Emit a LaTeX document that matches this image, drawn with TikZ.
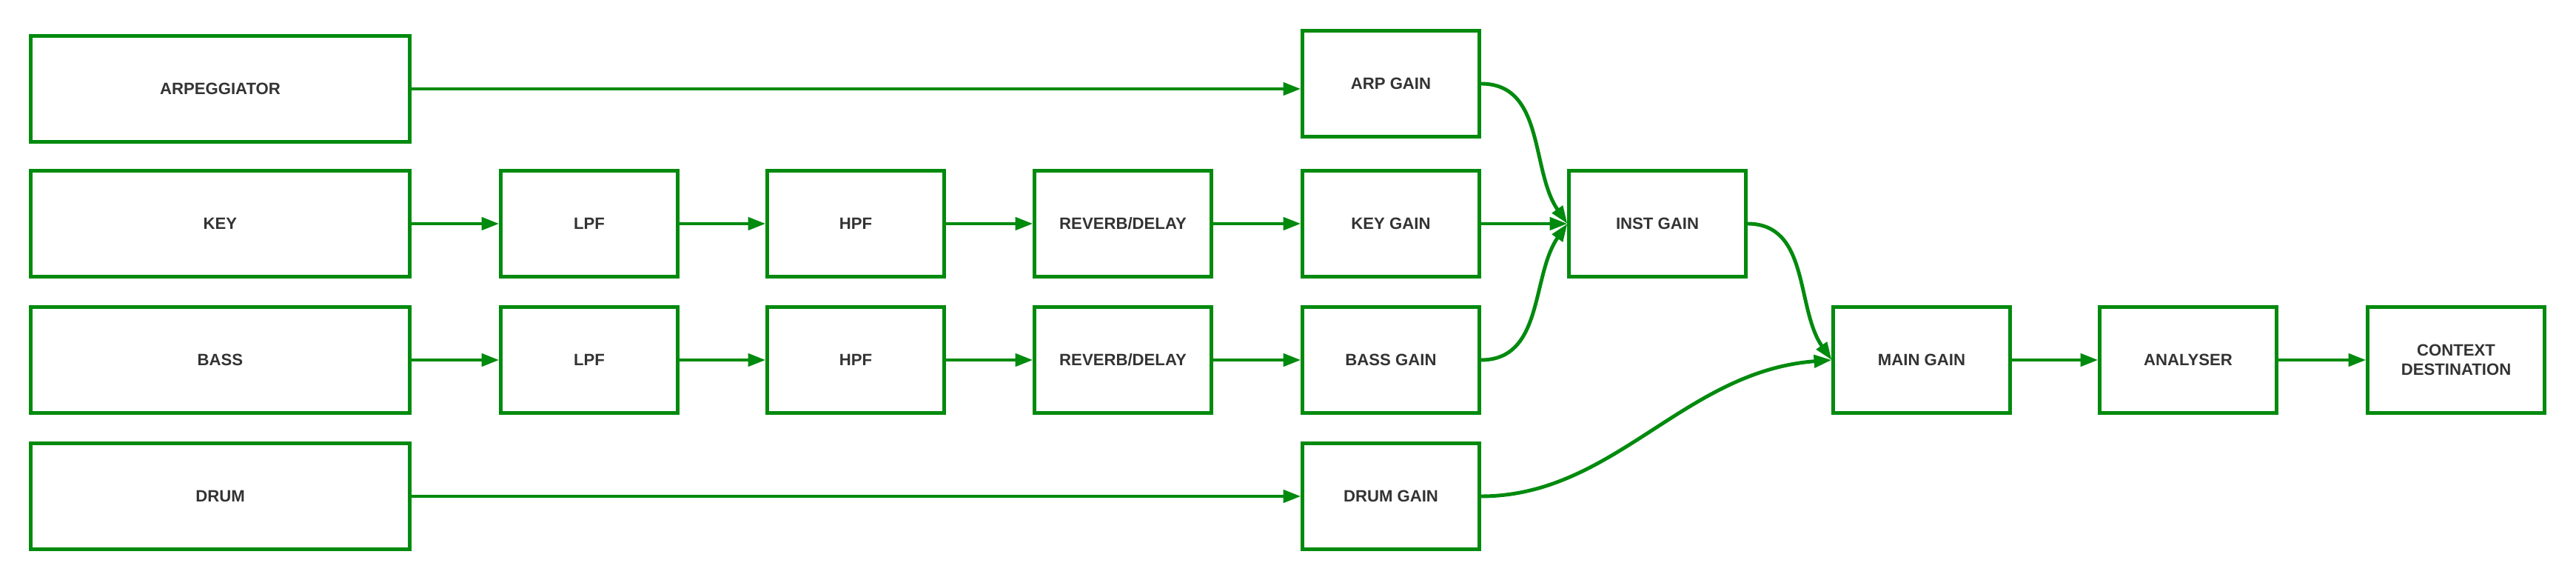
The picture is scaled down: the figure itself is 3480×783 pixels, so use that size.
\documentclass[tikz,border=0pt]{standalone}
\usepackage{fontspec}
\setmainfont{Liberation Sans}
\usepackage{tikz}
\usetikzlibrary{arrows.meta}

\definecolor{flowgreen}{RGB}{0,138,14}
\definecolor{labelgrey}{RGB}{51,51,51}

\begin{document}
\begin{tikzpicture}[
        x=0.01cm, y=-0.01cm,
        box/.style={rectangle, draw=flowgreen, line width=1.4pt, minimum width=2.38cm, minimum height=1.43cm, text=labelgrey, font=\fontsize{6.3pt}{7.6pt}\selectfont\bfseries, align=center},
        widebox/.style={box, minimum width=5.11cm},
        arrow/.style={-{Triangle[length=6.8pt, width=4.8pt]}, draw=flowgreen, line width=1.4pt}
    ]
        \useasboundingbox (0,0) rectangle (3480,783);

        % sources
        \node[widebox] (arp) at (297.5,120) {ARPEGGIATOR};
        \node[widebox] (key) at (297.5,302) {KEY};
        \node[widebox] (bass) at (297.5,486) {BASS};
        \node[widebox] (drum) at (297.5,670) {DRUM};

        % effects
        \node[box] (keylpf) at (796,302) {LPF};
        \node[box] (keyhpf) at (1156,302) {HPF};
        \node[box] (keyrev) at (1517,302) {REVERB/DELAY};
        \node[box] (basslpf) at (796,486) {LPF};
        \node[box] (basshpf) at (1156,486) {HPF};
        \node[box] (bassrev) at (1517,486) {REVERB/DELAY};

        % gains
        \node[box] (arpgain) at (1879,113) {ARP GAIN};
        \node[box] (keygain) at (1879,302) {KEY GAIN};
        \node[box] (bassgain) at (1879,486) {BASS GAIN};
        \node[box] (drumgain) at (1879,670) {DRUM GAIN};
        \node[box] (instgain) at (2239,302) {INST GAIN};
        \node[box] (maingain) at (2596,486) {MAIN GAIN};
        \node[box] (analyser) at (2956,486) {ANALYSER};
        \node[box] (dest) at (3318,486) {CONTEXT\\DESTINATION};

        \draw[arrow] (arp.east) -- (arp.east -| arpgain.west);
        \draw[arrow] (key) -- (keylpf);
        \draw[arrow] (keylpf) -- (keyhpf);
        \draw[arrow] (keyhpf) -- (keyrev);
        \draw[arrow] (keyrev) -- (keygain);
        \draw[arrow] (bass) -- (basslpf);
        \draw[arrow] (basslpf) -- (basshpf);
        \draw[arrow] (basshpf) -- (bassrev);
        \draw[arrow] (bassrev) -- (bassgain);
        \draw[arrow] (drum) -- (drumgain);

        \draw[arrow] (arpgain.east) to[out=0, in=125] (instgain.west);
        \draw[arrow] (keygain) -- (instgain);
        \draw[arrow] (bassgain.east) to[out=0, in=235] (instgain.west);
        \draw[arrow] (instgain.east) to[out=0, in=125] (maingain.west);
        \draw[arrow] (drumgain.east) .. controls +(180,0) and +(-200,15) .. (maingain.west);
        \draw[arrow] (maingain) -- (analyser);
        \draw[arrow] (analyser) -- (dest);
    \end{tikzpicture}
\end{document}
